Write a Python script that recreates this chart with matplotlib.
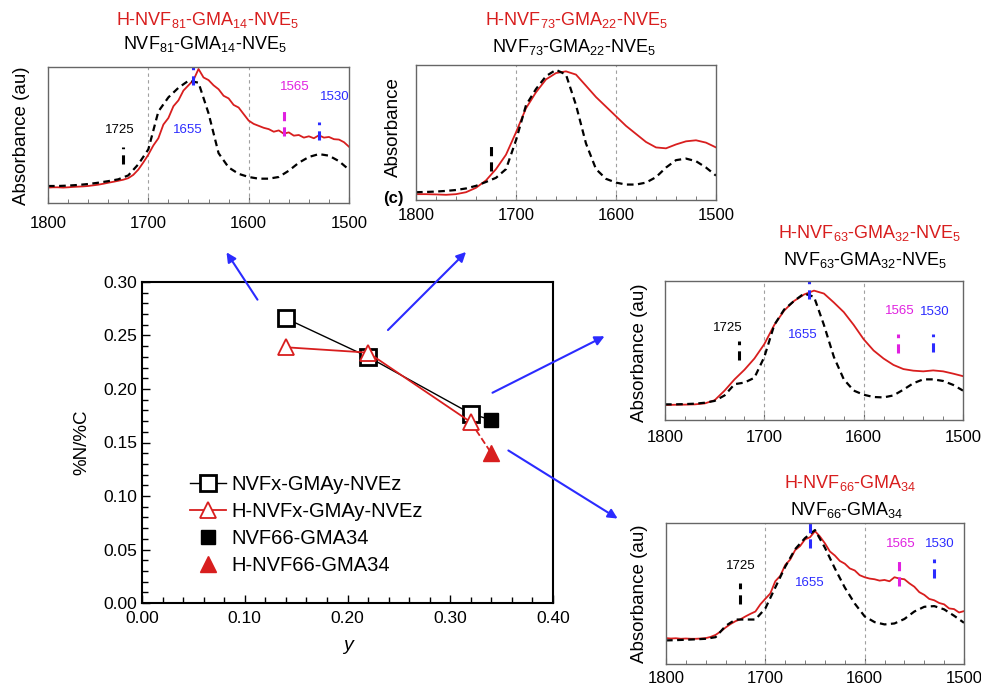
import numpy as np
import matplotlib
matplotlib.use('Agg')
import matplotlib.pyplot as plt
from matplotlib.ticker import MultipleLocator, FormatStrFormatter

plt.rcParams['font.family'] = ['Liberation Sans', 'DejaVu Sans']
plt.rcParams['mathtext.fontset'] = 'custom'
plt.rcParams['mathtext.rm'] = 'Liberation Sans'
plt.rcParams['mathtext.it'] = 'Liberation Sans:italic'
plt.rcParams['mathtext.bf'] = 'Liberation Sans:bold'

RED = '#d81e1e'
BLUE = '#2b2bff'
MAG = '#e020e0'

# main panel: %N/%C vs GMA fraction y
y_gma = [0.14, 0.22, 0.32]
ratio_copo = [0.266, 0.230, 0.177]
ratio_hydro = [0.239, 0.234, 0.169]
y_nvf66 = [0.34]
ratio_nvf66 = [0.171]
ratio_hnvf66 = [0.140]

# FTIR insets, wavenumber 1800 -> 1500, normalised absorbance
wn = np.arange(1800, 1499, -10)
wn_fine = np.arange(1800, 1499, -5)
black1 = [.090, .090, .093, .098, .105, .115, .127, .141, .171, .256, .370, .660, .768, .841,
          .895, .880, .646, .341, .232, .183, .159, .146, .146, .159, .207, .268, .312, .334,
          .322, .280, .215]
red1 = [.078, .080, .080, .078, .080, .083, .085, .087, .090, .095,
        .100, .107, .115, .122, .130, .138, .150, .175, .215, .270,
        .330, .400, .455, .560, .610, .700, .745, .820, .860, .900,
        .985, .920, .900, .860, .830, .780, .760, .710, .690, .640,
        .590, .565, .550, .535, .525, .505, .515, .490, .500, .475,
        .480, .460, .470, .455, .478, .460, .465, .448, .445, .425,
        .390]
black2 = [.020, .022, .025, .030, .037, .049, .069, .099, .131, .198, .420, .690, .815, .914,
          .963, .926, .691, .395, .198, .123, .094, .079, .079, .094, .136, .210, .267, .279,
          .259, .210, .148]
red2 = [.005, .005, .003, .000, .005, .020, .054, .111, .198, .309, .481, .667, .790, .889,
        .938, .951, .926, .840, .753, .679, .605, .531, .469, .407, .365, .358, .388, .412,
        .420, .402, .365]
black3 = [.077, .077, .079, .082, .089, .103, .144, .228, .240, .276, .432, .671, .787, .851,
          .906, .882, .671, .432, .264, .180, .149, .132, .129, .144, .187, .235, .264, .264,
          .252, .223, .180]
red3 = [.072, .074, .075, .077, .084, .108, .180, .264, .336, .420, .528, .671, .779, .851,
        .899, .928, .906, .839, .767, .671, .564, .480, .420, .372, .341, .329, .324, .331,
        .324, .307, .288]
black4 = [.134, .136, .139, .142, .146, .158, .241, .288, .288, .288, .370, .524, .677, .807,
          .889, .948, .818, .665, .524, .406, .311, .269, .252, .259, .292, .347, .382, .387,
          .363, .316, .264]
red4 = [.151, .148, .150, .146, .148, .146, .146, .148, .151, .160,
        .175, .200, .229, .255, .276, .290, .311, .330, .347, .400,
        .441, .480, .570, .610, .690, .730, .800, .830, .880, .895,
        .940, .900, .850, .790, .760, .720, .700, .665, .650, .615,
        .600, .590, .585, .575, .580, .570, .600, .590, .585, .555,
        .530, .490, .470, .440, .430, .410, .400, .370, .365, .340,
        .350]

titles_red = [r'H-NVF$_{81}$-GMA$_{14}$-NVE$_{5}$', r'H-NVF$_{73}$-GMA$_{22}$-NVE$_{5}$',
              r'H-NVF$_{63}$-GMA$_{32}$-NVE$_{5}$', r'H-NVF$_{66}$-GMA$_{34}$']
titles_black = [r'NVF$_{81}$-GMA$_{14}$-NVE$_{5}$', r'NVF$_{73}$-GMA$_{22}$-NVE$_{5}$',
                r'NVF$_{63}$-GMA$_{32}$-NVE$_{5}$', r'NVF$_{66}$-GMA$_{34}$']
ylabels = ['Absorbance (au)', 'Absorbance', 'Absorbance (au)', 'Absorbance (au)']

W, H = 981, 684
fig = plt.figure(figsize=(W / 100, H / 100), dpi=100)


def box(l, t, r, b):
    return [l / W, 1 - b / H, (r - l) / W, (b - t) / H]


def fpos(x, y):
    return x / W, 1 - y / H


# ---- main panel
ax = fig.add_axes(box(142, 282, 553, 603))
ax.plot(y_gma, ratio_copo, '-', color='black', lw=1, marker='s', ms=11, mfc='white',
        mec='black', mew=2, label='NVFx-GMAy-NVEz', zorder=3)
ax.plot(y_gma, ratio_hydro, '-', color=RED, lw=1.3, marker='^', ms=11, mfc='white',
        mec=RED, mew=1.3, label='H-NVFx-GMAy-NVEz', zorder=4)
ax.plot([y_gma[-1], y_nvf66[0]], [ratio_copo[-1], ratio_nvf66[0]], '-', color='black', lw=1,
        zorder=2)
ax.plot([y_gma[-1], y_nvf66[0]], [ratio_hydro[-1], ratio_hnvf66[0]], '--', color=RED, lw=1.3,
        zorder=2)
ax.plot(y_nvf66, ratio_nvf66, 's', color='black', ms=10, label='NVF66-GMA34', zorder=3)
ax.plot(y_nvf66, ratio_hnvf66, '^', color=RED, ms=11, label='H-NVF66-GMA34', zorder=3)
ax.set_xlim(0, 0.40)
ax.set_ylim(0, 0.30)
ax.xaxis.set_major_locator(MultipleLocator(0.10))
ax.xaxis.set_minor_locator(MultipleLocator(0.02))
ax.yaxis.set_major_locator(MultipleLocator(0.05))
ax.yaxis.set_minor_locator(MultipleLocator(0.01))
ax.xaxis.set_major_formatter(FormatStrFormatter('%.2f'))
ax.yaxis.set_major_formatter(FormatStrFormatter('%.2f'))
ax.tick_params(which='both', direction='in', top=False, right=False, labelsize=12.5)
ax.tick_params(axis='x', pad=6)
ax.tick_params(which='major', length=6, width=1)
ax.tick_params(which='minor', length=4, width=1)
for s in ax.spines.values():
    s.set_linewidth(1.5)
ax.set_xlabel('y', fontsize=14, style='italic', labelpad=8)
ax.set_ylabel('%N/%C', fontsize=13.5, labelpad=9)
ax.legend(loc='upper left', bbox_to_anchor=(0.117, 0.40), frameon=False, fontsize=14.5,
          borderpad=0, borderaxespad=0, handlelength=1.8, handletextpad=0.25,
          labelspacing=0.4)

# ---- insets
inset_boxes = [(48, 67, 349, 203), (416, 65, 716, 200), (665, 281, 963, 420), (666, 523, 964, 664)]
label_pads = [9, 6, 7, 5]
title_pos = [((208, 20), (205, 44)), ((577, 20), (574, 47)),
             ((870, 233), (865, 260)), ((850, 483), (847, 510))]
ylabel_pos = [(22, 136), (393, 127), (640, 353), (640, 594)]
wn_black = [wn, wn, wn, wn]
wn_red = [wn_fine, wn, wn, wn_fine]
blacks = [black1, black2, black3, black4]
reds = [red1, red2, red3, red4]

# peak labels: (text, colour, x, y) and marker ticks: (wavenumber, y0, y1, colour)
peak_text = [
    [('1725', 'black', 1728, 0.515), ('1655', BLUE, 1661, 0.515),
     ('1565', MAG, 1554, 0.846), ('1530', BLUE, 1514, 0.772)],
    [],
    [('1725', 'black', 1737, 0.647), ('1655', BLUE, 1661, 0.597),
     ('1565', MAG, 1564, 0.777), ('1530', BLUE, 1528, 0.770)],
    [('1725', 'black', 1725, 0.681), ('1655', BLUE, 1655, 0.560),
     ('1565', MAG, 1564, 0.844), ('1530', BLUE, 1524, 0.844)],
]
peak_marks = [
    [(1725, 0.256, 0.390, 'black'), (1655, 0.866, 1.0, BLUE),
     (1565, 0.476, 0.671, MAG), (1530, 0.439, 0.578, BLUE)],
    [(1725, 0.185, 0.407, 'black')],
    [(1725, 0.408, 0.552, 'black'), (1655, 0.868, 1.0, BLUE),
     (1565, 0.460, 0.604, MAG), (1530, 0.468, 0.604, BLUE)],
    [(1725, 0.406, 0.559, 'black'), (1655, 0.818, 1.0, BLUE),
     (1565, 0.535, 0.736, MAG), (1530, 0.594, 0.736, BLUE)],
]

for i in range(4):
    a = fig.add_axes(box(*inset_boxes[i]))
    a.axvline(1700, color='#a0a0a0', lw=0.8, ls=(0, (3, 3)))
    a.axvline(1600, color='#a0a0a0', lw=0.8, ls=(0, (3, 3)))
    a.plot(wn_red[i], reds[i], '-', color=RED, lw=1.3)
    a.plot(wn_black[i], blacks[i], '--', color='black', lw=1.6, dashes=(3, 2))
    for w, y0, y1, c in peak_marks[i]:
        a.plot([w, w], [y0, y1], '--', color=c, lw=2.2, dashes=(3, 2), clip_on=False)
    for t, c, x, y in peak_text[i]:
        a.text(x, y, t, color=c, fontsize=9.5, ha='center', va='center')
    a.set_xlim(1800, 1500)
    a.set_ylim(-0.04, 1.0)
    a.set_xticks([1800, 1700, 1600, 1500])
    a.xaxis.set_minor_locator(MultipleLocator(20))
    a.set_yticks([])
    a.tick_params(axis='x', which='both', direction='in', labelsize=12, color='#666666',
                  pad=label_pads[i])
    a.tick_params(axis='x', which='major', length=4)
    a.tick_params(axis='x', which='minor', length=3)
    for s in a.spines.values():
        s.set_color('#666666')
        s.set_linewidth(1)
    (rx, ry), (bx, by) = title_pos[i]
    fig.text(*fpos(rx, ry), titles_red[i], color=RED, fontsize=13, ha='center', va='center')
    fig.text(*fpos(bx, by), titles_black[i], color='black', fontsize=13, ha='center', va='center')
    lx, ly = ylabel_pos[i]
    fig.text(*fpos(lx, ly), ylabels[i], fontsize=13.5, rotation=90, ha='center', va='center')

fig.text(*fpos(393, 198), '(c)', fontsize=12, fontweight='bold', ha='center', va='center')

# arrows from the main panel to the insets
arrows = [((259, 302), (225, 250)), ((386, 332), (468, 250)),
          ((490, 394), (607, 335)), ((506, 449), (620, 520))]
for (x0, y0), (x1, y1) in arrows:
    fig.add_artist(matplotlib.patches.FancyArrowPatch(
        fpos(x0, y0), fpos(x1, y1), transform=fig.transFigure, arrowstyle='-|>',
        mutation_scale=14, color=BLUE, lw=1.5))

fig.savefig('out.png', dpi=100)
